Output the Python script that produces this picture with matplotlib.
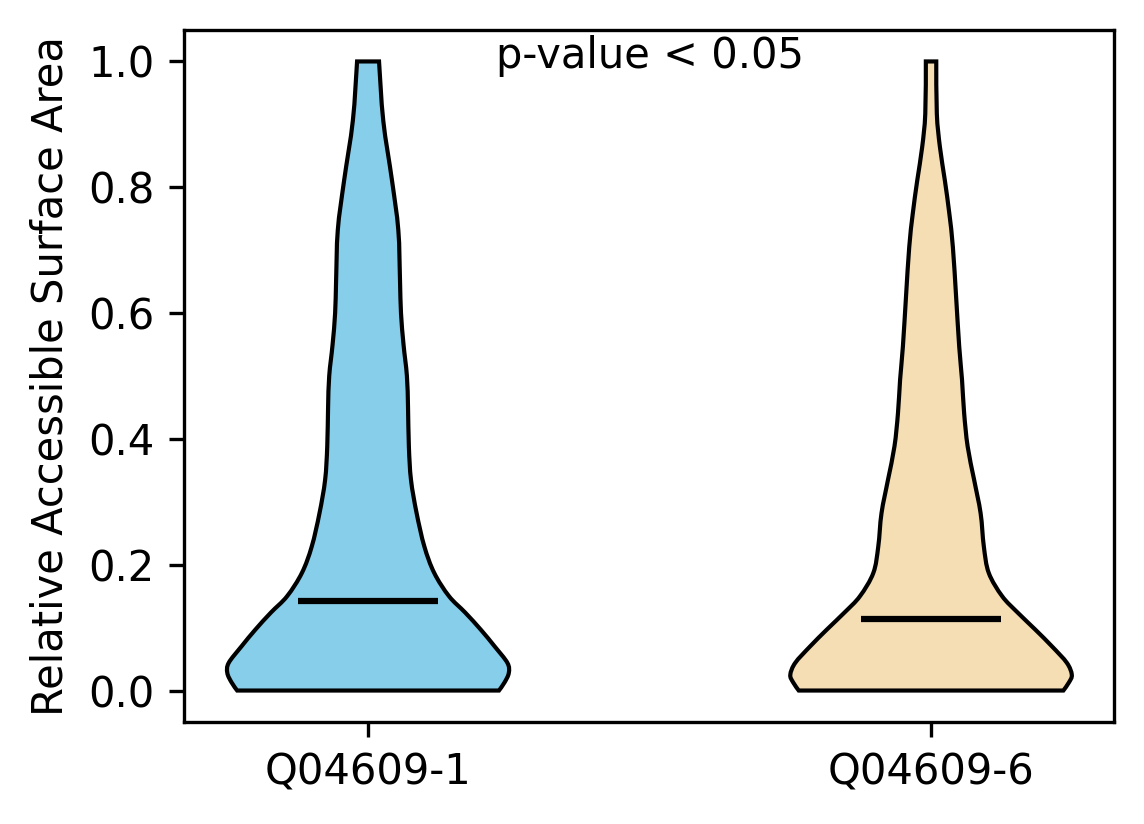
import numpy as np
import matplotlib
matplotlib.use("Agg")
from matplotlib import pyplot as plt
from matplotlib.path import Path
from matplotlib.patches import PathPatch

# Violin outlines: RSA level and half-width (fraction of max)
labels = ["Q04609-1", "Q04609-6"]
colors = ["skyblue", "wheat"]
medians = [0.142, 0.113]

rsa_1 = [0.0, 0.013, 0.028, 0.044, 0.070, 0.097, 0.124, 0.150, 0.187, 0.229, 0.282,
         0.335, 0.388, 0.45, 0.50, 0.55, 0.60, 0.652, 0.732, 0.811, 0.906, 1.0]
width_1 = [0.93, 0.97, 1.0, 0.99, 0.90, 0.80, 0.69, 0.575, 0.47, 0.40, 0.345,
           0.305, 0.29, 0.284, 0.276, 0.252, 0.234, 0.227, 0.215, 0.17, 0.108, 0.078]

rsa_2 = [0.0, 0.013, 0.025, 0.044, 0.070, 0.097, 0.124, 0.150, 0.187, 0.229, 0.282,
         0.335, 0.388, 0.441, 0.494, 0.547, 0.626, 0.705, 0.758, 0.811, 0.864, 0.917, 1.0]
width_2 = [0.94, 0.98, 1.0, 0.965, 0.86, 0.74, 0.615, 0.505, 0.41, 0.375, 0.352,
           0.306, 0.26, 0.235, 0.22, 0.2, 0.178, 0.155, 0.13, 0.098, 0.063, 0.041, 0.037]

profiles = [(rsa_1, width_1), (rsa_2, width_2)]


def smooth_side(pts):
    # catmull-rom through the read points, as bezier segments
    pts = np.asarray(pts, dtype=float)
    ext = np.vstack([pts[0], pts, pts[-1]])
    verts, codes = [], []
    for k in range(1, len(ext) - 2):
        p0, p1, p2, p3 = ext[k - 1], ext[k], ext[k + 1], ext[k + 2]
        verts += [p1 + (p2 - p0) / 6, p2 - (p3 - p1) / 6, p2]
        codes += [Path.CURVE4] * 3
    return verts, codes


fig = plt.figure(figsize=(1144 / 300, 824 / 300), dpi=300)
ax = fig.add_axes([0.1608, 0.1238, 0.813, 0.8398])

for i, (rsa, w) in enumerate(profiles):
    pos = i + 1
    half = 0.25 * np.array(w)
    y = np.array(rsa)
    right = np.column_stack([pos + half, y])
    left = np.column_stack([pos - half, y])[::-1]
    verts = [right[0]]
    codes = [Path.MOVETO]
    v, c = smooth_side(right)
    verts += v
    codes += c
    verts.append(left[0])
    codes.append(Path.LINETO)
    v, c = smooth_side(left)
    verts += v
    codes += c
    verts.append(right[0])
    codes.append(Path.CLOSEPOLY)
    ax.add_patch(PathPatch(Path(verts, codes), facecolor=colors[i],
                           edgecolor="black", linewidth=1))
    ax.hlines(medians[i], pos - 0.125, pos + 0.125, color="black", linewidth=1.5)

ax.set_xlim(0.673, 2.325)
ax.set_ylim(-0.05, 1.05)
ax.set_xticks([1, 2])
ax.set_xticklabels(labels)
ax.set_yticks([0.0, 0.2, 0.4, 0.6, 0.8, 1.0])
ax.set_ylabel("Relative Accessible Surface Area")
ax.text(1.5, 0.989, "p-value < 0.05", ha="center", va="baseline", fontsize=10)

fig.savefig("out.png", dpi=300)
